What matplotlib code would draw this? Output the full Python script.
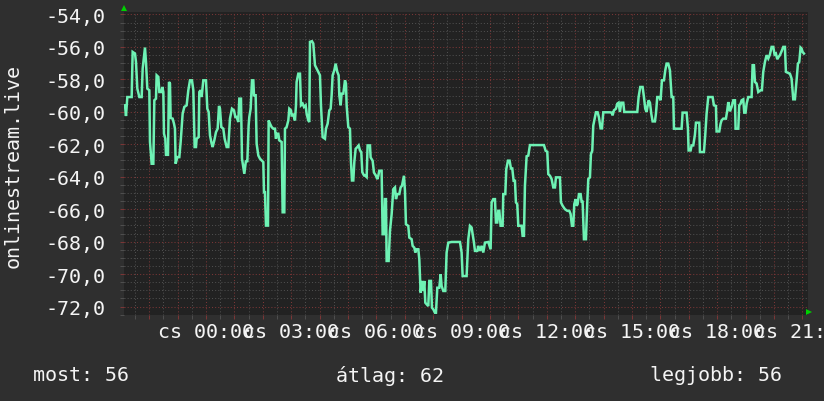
import matplotlib
matplotlib.use("Agg")
import matplotlib.pyplot as plt
from matplotlib.ticker import MultipleLocator, FuncFormatter

# ---- data (hours relative to midnight, signal level) ----
time_h = [
    -2.852, -2.817, -2.770, -2.617, -2.582, -2.500, -2.465, -2.418, -2.347, -2.265,
    -2.230, -2.148, -2.113, -2.066, -1.995, -1.972, -1.913, -1.854, -1.819, -1.761,
    -1.737, -1.678, -1.643, -1.573, -1.538, -1.502, -1.479, -1.432, -1.408, -1.338,
    -1.303, -1.268, -1.244, -1.174, -1.127, -1.092, -1.068, -1.009, -0.939, -0.892,
    -0.822, -0.763, -0.681, -0.622, -0.563, -0.493, -0.446, -0.399, -0.352, -0.329,
    -0.258, -0.235, -0.188, -0.153, -0.094, 0.000, 0.047, 0.094, 0.141, 0.200,
    0.235, 0.293, 0.352, 0.411, 0.458, 0.493, 0.540, 0.610, 0.657, 0.728,
    0.786, 0.845, 0.915, 0.986, 1.033, 1.080, 1.138, 1.174, 1.232, 1.268,
    1.350, 1.408, 1.455, 1.502,
    1.526, 1.573, 1.620, 1.667, 1.690, 1.749, 1.784, 1.843, 1.901, 1.960,
    2.019, 2.042, 2.077, 2.113, 2.183, 2.207, 2.254, 2.312, 2.371, 2.430,
    2.465, 2.488, 2.547, 2.582, 2.664, 2.700, 2.758, 2.782, 2.840, 2.899,
    2.934, 2.993, 3.016, 3.075, 3.134, 3.169, 3.192, 3.251, 3.310, 3.345,
    3.404, 3.451, 3.509, 3.545, 3.603, 3.638, 3.662, 3.732, 3.779, 3.838,
    3.897, 3.955, 4.014, 4.049, 4.108, 4.190, 4.225, 4.284, 4.343, 4.390,
    4.425, 4.460, 4.519, 4.566, 4.624, 4.671, 4.695, 4.742, 4.777, 4.836,
    4.894, 4.930, 4.953, 5.012, 5.070, 5.106, 5.141, 5.188, 5.223, 5.270,
    5.329, 5.376, 5.423, 5.469, 5.505, 5.564, 5.599, 5.657, 5.692, 5.775,
    5.798, 5.869, 5.915, 5.986, 6.033, 6.068, 6.103, 6.185, 6.221, 6.268,
    6.303, 6.338, 6.362, 6.432, 6.479, 6.538, 6.596, 6.655, 6.690, 6.737,
    6.808, 6.854, 6.901, 6.972, 7.007, 7.042, 7.124, 7.160, 7.242, 7.277,
    7.336, 7.371, 7.418, 7.477, 7.512, 7.559, 7.606, 7.653, 7.688, 7.723,
    7.770, 7.829, 7.864, 7.923, 7.958, 8.005, 8.063, 8.099, 8.146, 8.216,
    8.263, 8.298, 8.357, 8.427, 8.474, 8.533, 8.650, 8.944, 9.002, 9.038,
    9.178, 9.237, 9.296, 9.354, 9.390, 9.437, 9.472, 9.554, 9.589, 9.648,
    9.707, 9.765, 9.824, 9.941,
    10.023, 10.059, 10.117, 10.176, 10.211, 10.258, 10.293, 10.329, 10.376, 10.446,
    10.469, 10.540, 10.575, 10.634, 10.692, 10.739, 10.786, 10.833, 10.880, 10.915,
    10.962, 10.998, 11.115, 11.150, 11.197, 11.232, 11.291, 11.350, 11.408, 11.901,
    11.960, 12.019, 12.054, 12.113, 12.171, 12.230, 12.289, 12.324, 12.465, 12.500,
    12.559, 12.641, 12.723, 12.793, 12.840, 12.887, 12.934, 12.969, 13.016, 13.052,
    13.087, 13.134, 13.192, 13.228, 13.263, 13.310, 13.380, 13.427, 13.463, 13.521,
    13.556, 13.603, 13.638, 13.697, 13.732, 13.791, 13.838, 13.897, 13.944, 13.991,
    14.225,
    14.284, 14.319, 14.366, 14.437, 14.484, 14.531, 14.577, 14.624, 14.695, 14.730,
    15.188, 15.235, 15.293, 15.376, 15.423, 15.469, 15.516, 15.587, 15.634, 15.681,
    15.728, 15.810, 15.845, 15.892, 15.962, 16.009, 16.056, 16.127, 16.174, 16.221,
    16.279, 16.338, 16.397, 16.455, 16.479, 16.749, 16.784, 16.925, 16.972, 16.995,
    17.066, 17.101, 17.160, 17.218, 17.254, 17.371, 17.394, 17.535, 17.582, 17.629,
    17.688, 17.746,
    17.840, 17.887, 17.958, 17.981, 18.075, 18.122, 18.157, 18.216, 18.310, 18.357,
    18.392, 18.451, 18.509, 18.568, 18.627, 18.650, 18.744, 18.779, 18.826, 18.862,
    18.920, 18.955, 19.002, 19.038, 19.096, 19.214, 19.249, 19.296, 19.331, 19.390,
    19.449, 19.531, 19.577, 19.624, 19.683, 19.742, 19.800, 19.859, 19.918, 19.977,
    20.023, 20.070, 20.117, 20.164, 20.211, 20.270, 20.329, 20.387, 20.423, 20.469,
    20.563, 20.622, 20.681, 20.739, 20.798, 20.845, 20.892, 20.939, 20.974, 21.009,
    21.056,
]

signal = [
    -59.60, -60.26, -59.09, -59.09, -56.31, -56.41, -56.93, -58.57, -59.09, -59.09,
    -57.34, -56.04, -56.93, -58.57, -58.67, -61.86, -63.20, -63.20, -59.29, -59.19,
    -57.75, -57.85, -58.78, -58.78, -58.47, -58.78, -61.35, -61.66, -62.65, -62.65,
    -58.16, -58.26, -60.38, -60.42, -60.73, -61.04, -63.20, -62.79, -62.79, -61.86,
    -60.12, -59.70, -59.60, -58.67, -58.06, -58.06, -58.67, -62.17, -62.17, -61.66,
    -61.56, -58.78, -58.67, -59.09, -58.06, -58.06, -59.81, -60.01, -61.45, -61.97,
    -62.17, -61.76, -61.25, -61.04, -59.64, -59.81, -60.94, -61.04, -61.66, -62.17,
    -62.17, -60.42, -59.81, -59.91, -60.32, -60.32, -60.63, -59.19, -59.19, -62.89,
    -63.82, -63.00, -63.10, -60.84,
    -60.32, -59.81, -58.06, -58.06, -58.98, -58.98, -61.97, -62.69, -62.89, -63.00,
    -63.10, -64.95, -64.95, -67.01, -67.01, -60.53, -60.73, -60.94, -61.04, -61.04,
    -61.66, -61.35, -61.35, -61.76, -61.86, -66.19, -66.19, -61.04, -60.94, -60.53,
    -59.81, -59.91, -60.22, -60.18, -60.53, -59.60, -58.16, -57.65, -57.65, -59.60,
    -59.50, -59.70, -59.60, -60.12, -60.53, -60.63, -55.69, -55.65, -55.79, -57.13,
    -57.34, -57.54, -57.75, -59.60, -61.56, -61.66, -61.04, -60.73, -59.91, -59.81,
    -58.98, -57.75, -57.44, -57.03, -57.54, -57.75, -58.98, -59.60, -58.88, -58.88,
    -58.06, -58.26, -59.60, -60.94, -61.04, -63.10, -64.23, -64.23, -63.10, -62.28,
    -62.17, -62.07, -62.38, -62.48, -63.72, -63.92, -63.92, -64.02, -62.07, -62.07,
    -62.81, -63.02, -63.74, -63.94, -64.15, -63.94, -63.63, -63.63, -67.54, -67.54,
    -65.38, -65.38, -69.19, -69.19, -67.34, -66.31, -64.77, -64.66, -65.38, -65.07,
    -65.07, -64.66, -64.56, -63.94, -64.87, -66.93, -67.03, -67.75, -67.85, -68.26,
    -68.37, -68.67, -68.47, -68.47, -69.09, -71.14, -70.42, -71.04, -70.42, -71.76,
    -71.86, -71.97, -70.42, -70.42, -72.07, -72.17, -72.38, -72.38, -70.84, -70.84,
    -70.01, -70.73, -71.04, -71.04, -68.67, -68.06, -68.02, -68.02, -68.67, -70.12,
    -70.12, -67.85, -67.03, -67.13, -67.54, -68.06, -68.57, -68.57, -68.26, -68.57,
    -68.26, -68.67, -68.06, -68.02,
    -68.47, -65.58, -65.38, -65.38, -66.82, -66.82, -66.10, -66.10, -67.02, -67.02,
    -65.07, -65.07, -63.53, -63.01, -63.01, -63.49, -63.49, -64.25, -64.25, -65.58,
    -65.69, -67.02, -67.02, -67.64, -67.64, -64.56, -62.74, -62.70, -62.05, -62.05,
    -62.40, -62.46, -63.84, -63.94, -64.14, -64.66, -64.66, -64.04, -64.04, -65.58,
    -65.79, -66.00, -66.10, -66.10, -66.30, -67.02, -67.02, -65.69, -65.38, -65.79,
    -65.69, -65.07, -65.07, -65.54, -65.54, -67.85, -67.85, -65.58, -64.14, -64.04,
    -62.60, -62.40, -60.85, -60.34, -60.03, -60.03, -60.34, -61.02, -61.02, -60.03,
    -60.03,
    -60.05, -60.22, -59.91, -59.81, -59.50, -59.44, -60.01, -59.44, -59.44, -60.01,
    -60.01, -59.09, -58.47, -58.47, -59.09, -59.81, -60.01, -59.29, -59.44, -60.12,
    -60.59, -60.59, -60.12, -59.09, -59.09, -59.29, -58.06, -58.06, -57.44, -57.03,
    -57.03, -57.44, -59.09, -59.09, -61.04, -61.04, -60.05, -60.05, -61.04, -62.38,
    -62.38, -62.07, -62.07, -61.41, -60.67, -60.67, -62.48, -62.48, -61.41, -60.12,
    -59.09, -59.09,
    -59.09, -59.60, -59.64, -61.21, -61.21, -60.73, -60.53, -60.42, -60.42, -59.91,
    -59.40, -59.97, -59.70, -59.29, -59.29, -61.04, -61.04, -59.60, -59.50, -59.29,
    -59.23, -60.05, -60.05, -59.50, -59.09, -59.09, -57.13, -57.13, -58.16, -58.26,
    -58.78, -58.67, -58.67, -57.54, -56.93, -56.51, -56.72, -56.47, -56.00, -56.00,
    -56.47, -56.41, -56.76, -56.62, -56.51, -56.27, -56.00, -56.00, -57.54, -57.58,
    -57.65, -57.95, -59.23, -59.23, -58.06, -57.03, -56.93, -56.04, -56.10, -56.31,
    -56.41,
]
assert len(time_h) == len(signal), (len(time_h), len(signal))

day_prefix = "cs"
y_label = "onlinestream.live"
summary = [("most", 56), ("átlag", 62), ("legjobb", 56)]

# ---- style ----
BG = "#2f2f2f"
PLOT_BG = "#222222"
LINE = "#6ef2b4"
MAJOR = "#7a3636"
MINOR = "#4e4e4e"
TXT = "#f4f4f4"
FONT = "DejaVu Sans Mono"
FS = 14.4

fig = plt.figure(figsize=(8.24, 4.02), dpi=100, facecolor=BG)
ax = fig.add_axes([124 / 824, 1 - 316 / 402, (808 - 124) / 824, (316 - 13) / 402])
ax.set_facecolor(PLOT_BG)
for s in ax.spines.values():
    s.set_visible(False)

ax.plot(time_h, signal, color=LINE, lw=1.8, solid_joinstyle="miter", zorder=3)

ax.set_xlim(-2.887, 21.2)
ax.set_ylim(-72.52, -53.85)

ax.xaxis.set_major_locator(MultipleLocator(1))
ax.xaxis.set_minor_locator(MultipleLocator(0.5))
ax.yaxis.set_major_locator(MultipleLocator(2))
ax.yaxis.set_minor_locator(MultipleLocator(0.5))


def xfmt(v, pos):
    h = int(round(v))
    if h % 3 == 0 and h >= 0:
        return f"{day_prefix} {h % 24:02d}:00"
    return ""


ax.xaxis.set_major_formatter(FuncFormatter(xfmt))
ax.yaxis.set_major_formatter(FuncFormatter(lambda v, p: f"{v:.1f}".replace(".", ",")))

ax.grid(which="minor", color=MINOR, linestyle=(0, (1, 2)), lw=0.75)
ax.grid(which="major", color=MAJOR, linestyle=(0, (1, 2)), lw=0.75)
ax.set_axisbelow(True)

ax.tick_params(which="both", length=3, width=0.75)
ax.tick_params(axis="x", which="major", colors=MAJOR, labelcolor=TXT, pad=2)
ax.tick_params(axis="y", which="major", colors=MAJOR, labelcolor=TXT, pad=10)
ax.tick_params(which="minor", colors=MINOR)
for lab in ax.get_xticklabels() + ax.get_yticklabels():
    lab.set_fontfamily(FONT)
    lab.set_fontsize(FS)

# axis arrows
ax.plot([0], [1.012], marker="^", color="#00d000", ms=5, transform=ax.transAxes,
        clip_on=False, zorder=5, mew=0)
ax.plot([1.002], [0.01], marker=">", color="#00d000", ms=5, transform=ax.transAxes,
        clip_on=False, zorder=5, mew=0)

fig.text(13 / 824, 1 - 166 / 402, y_label, rotation=90, ha="center", va="center",
         color=TXT, fontsize=FS, family=FONT)

xs = [33, 336, 650]
for (name, val), x in zip(summary, xs):
    fig.text(x / 824, 1 - 376 / 402, f"{name}: {val}", ha="left", va="center",
             color=TXT, fontsize=FS, family=FONT)

fig.savefig("out.png", dpi=100, facecolor=BG)
